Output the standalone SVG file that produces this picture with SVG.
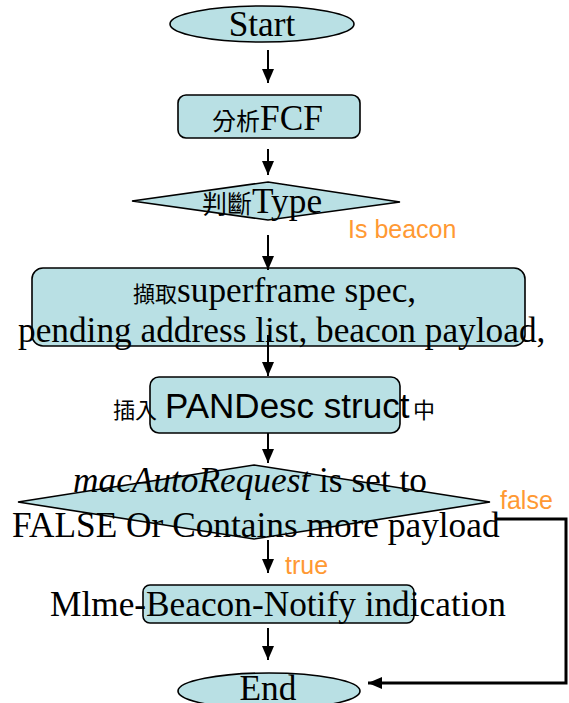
<svg xmlns="http://www.w3.org/2000/svg" width="569" height="703" viewBox="0 0 569 703">
  <style>
    .shape { fill: #B9E0E4; stroke: #000; stroke-width: 1.6; }
    .serif { font-family: "Liberation Serif", "Times New Roman", serif; font-size: 35.3px; fill: #000; }
    .cjk { font-family: "Noto Sans CJK TC", "Noto Sans CJK SC", sans-serif; fill: #000; }
    .sans { font-family: "Liberation Sans", Arial, sans-serif; fill: #000; }
    .label { font-family: "Liberation Sans", Arial, sans-serif; font-size: 25px; fill: #FF9933; }
    .conn { fill: none; stroke: #000; stroke-width: 2; }
    .conn-thick { fill: none; stroke: #000; stroke-width: 3; }
  </style>
  <defs>
    <marker id="arrow" markerUnits="userSpaceOnUse" markerWidth="14" markerHeight="12" refX="14" refY="6" orient="auto">
      <path d="M0,0 L14,6 L0,12 z" fill="#000"/>
    </marker>
  </defs>

  <rect width="569" height="703" fill="#fff"/>

  <g id="start">
    <ellipse class="shape" cx="262" cy="24" rx="92" ry="18"/>
    <text class="serif" x="262" y="36" text-anchor="middle">Start</text>
  </g>

  <g id="parse-fcf">
    <rect class="shape" x="178" y="95" width="182" height="43" rx="8"/>
    <text x="212" y="130"><tspan class="cjk" font-size="24">分析</tspan><tspan class="serif">FCF</tspan></text>
  </g>

  <g id="check-type">
    <polygon class="shape" points="268,182 400,202 268,220 132,201"/>
    <text x="202" y="213"><tspan class="cjk" font-size="25">判斷</tspan><tspan class="serif">Type</tspan></text>
  </g>

  <g id="extract-fields">
    <rect class="shape" x="32" y="268" width="493" height="78" rx="11"/>
    <text x="133" y="302"><tspan class="cjk" font-size="22">擷取</tspan><tspan class="serif">superframe spec,</tspan></text>
    <text class="serif" x="18" y="342">pending address list, beacon payload,</text>
  </g>

  <g id="insert-pandesc">
    <rect class="shape" x="150" y="377" width="250" height="56" rx="9"/>
    <text x="113" y="418"><tspan class="cjk" font-size="22">插入</tspan><tspan class="sans" font-size="35" x="165">PANDesc struct</tspan><tspan class="cjk" font-size="22" x="413">中</tspan></text>
  </g>

  <g id="auto-request">
    <polygon class="shape" points="254,465 490,502 254,539 18,502"/>
    <text class="serif" x="73" y="492"><tspan font-style="italic">macAutoRequest</tspan> is set to</text>
    <text class="serif" x="12" y="537">FALSE Or Contains more payload</text>
  </g>

  <g id="notify">
    <rect class="shape" x="143" y="585" width="271" height="38" rx="7"/>
    <text class="serif" x="50" y="616">Mlme-Beacon-Notify indication</text>
  </g>

  <g id="end">
    <ellipse class="shape" cx="269" cy="691" rx="91" ry="18"/>
    <text class="serif" x="268" y="700" text-anchor="middle">End</text>
  </g>

  <g id="connectors">
    <line class="conn" x1="268" y1="50" x2="268" y2="83" marker-end="url(#arrow)"/>
    <line class="conn" x1="268" y1="149" x2="268" y2="175" marker-end="url(#arrow)"/>
    <line class="conn" x1="268" y1="235" x2="268" y2="270" marker-end="url(#arrow)"/>
    <line class="conn" x1="268" y1="335" x2="268" y2="376" marker-end="url(#arrow)"/>
    <line class="conn" x1="268" y1="433" x2="268" y2="463" marker-end="url(#arrow)"/>
    <line class="conn" x1="268" y1="540" x2="268" y2="573" marker-end="url(#arrow)"/>
    <line class="conn" x1="268" y1="628" x2="268" y2="660" marker-end="url(#arrow)"/>
    <polyline class="conn-thick" points="495,519 566,519 566,683 368,683" marker-end="url(#arrow)"/>
    <text class="label" x="348" y="238">Is beacon</text>
    <text class="label" x="500" y="509">false</text>
    <text class="label" x="285" y="574">true</text>
  </g>
</svg>
